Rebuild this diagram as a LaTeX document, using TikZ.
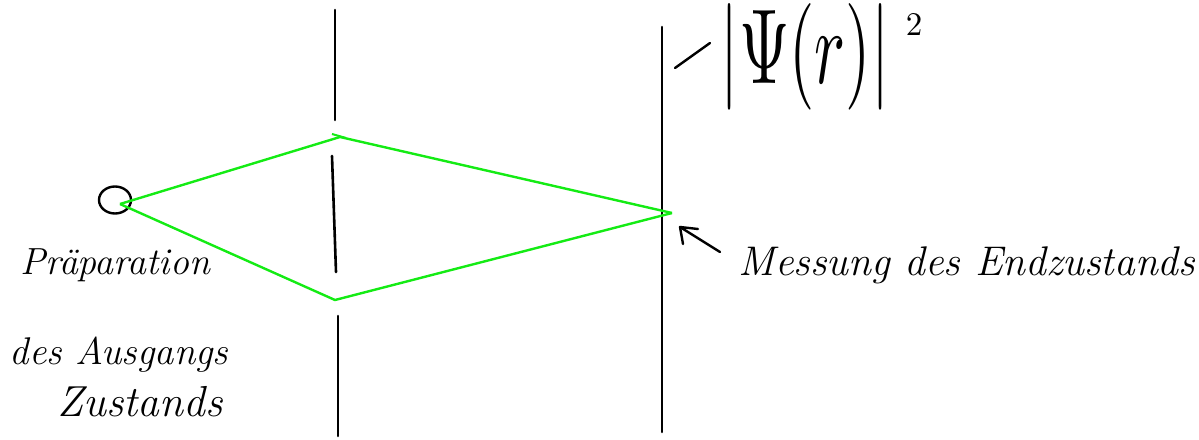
\documentclass[tikz,border=0pt]{standalone}
\usepackage{fontspec}
\usepackage{graphicx}
\usetikzlibrary{shapes.geometric}
\setmainfont{Latin Modern Roman}
\definecolor{beam}{RGB}{20,235,20}
\tikzset{
  wall/.style={line width=2.6pt, line cap=round},
  ray/.style={draw=beam, line width=2.4pt, line join=miter},
  hand/.style={font=\itshape\fontsize{28}{32}\selectfont, inner sep=0pt},
}
\begin{document}
\begin{tikzpicture}[x=1pt,y=-1pt]
\useasboundingbox (0,0) rectangle (1199,439);
% first wall with two slits
\draw[wall] (335,10) coordinate (w1a) -- (335,120) coordinate (w1b);
\draw[wall] (332,156) coordinate (w2a) -- (336,272) coordinate (w2b);
\draw[wall] (338,316) coordinate (w3a) -- (338,436) coordinate (w3b);
% screen
\draw[wall] (662,27) coordinate (sa) -- (662,432) coordinate (sb);
% source
\node[draw, ellipse, line width=2.4pt, minimum width=32pt, minimum height=27pt, inner sep=0pt] (src) at (115,200) {};
\coordinate (s) at (120,204);
\coordinate (slitA) at (340,137);
\coordinate (slitB) at (335,300);
\coordinate (det) at (672,213);
\draw[ray] (s) -- (slitA) -- (det);
\draw[ray] (s) -- (slitB) -- (det);
\draw[beam, line width=2pt] (332,134) -- (346,138);
% arrow to detector
\coordinate (arrA) at (720,252);
\coordinate (arrB) at (680,227);
\draw[line width=2.4pt, line cap=round, line join=round] (arrA) -- (arrB) -- (698,229);
\draw[line width=2.4pt, line cap=round] (arrB) -- (683,244);
% labels
\node[hand] (prep) at (115,265) {\scalebox{1.35}{Präparation}};
\node[hand] (aus) at (119,355) {\scalebox{1.38}{des Ausgangs}};
\node[hand] (zu) at (140,402) {\scalebox{1.55}{Zustands}};
\node[hand] (mess) at (967,265) {\scalebox{1.48}{Messung des Endzustands}};
% wave function
\draw[line width=2.4pt, line cap=round] (675,68) -- (710,43);
\node[inner sep=0pt] (psi) at (805,57) {\resizebox{168pt}{80pt}{$|\Psi(r)|$}};
\node[inner sep=0pt] (sq) at (914,24) {\resizebox{!}{22pt}{2}};
\end{tikzpicture}
\end{document}
